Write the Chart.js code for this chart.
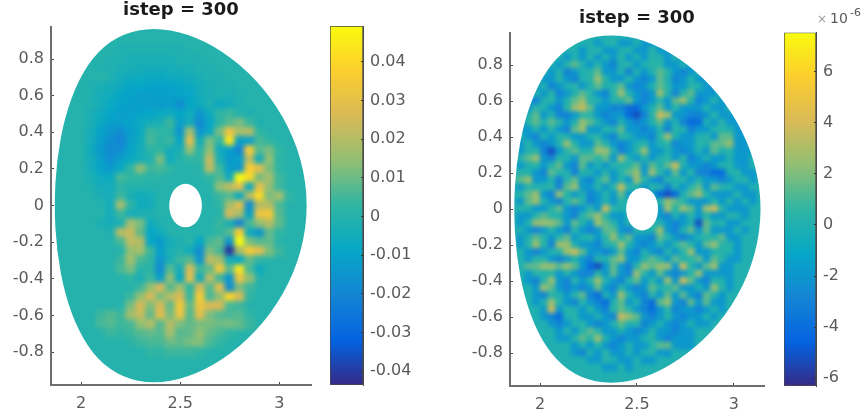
<!DOCTYPE html>
<html>
<head>
<meta charset="utf-8">
<title>istep = 300</title>
<script src="https://cdn.jsdelivr.net/npm/chart.js@4"></script>
<style>
  html, body { margin: 0; background: #fff; }
  body { width: 868px; height: 416px; position: relative; overflow: hidden; }
  canvas { position: absolute; top: 0; filter: blur(0.4px); }
</style>
</head>
<body>
<canvas id="fieldA" width="320" height="416" style="left:0"></canvas>
<canvas id="barA" width="95" height="416" style="left:330px"></canvas>
<canvas id="fieldB" width="310" height="416" style="left:460px"></canvas>
<canvas id="barB" width="84" height="416" style="left:784px"></canvas>
<script>
const titleText = 'istep = 300';
const xTicks = [2, 2.5, 3];
const xTickLabels = ['2', '2.5', '3'];
const yTicks = [0.8, 0.6, 0.4, 0.2, 0, -0.2, -0.4, -0.6, -0.8];
const yTickLabels = ['0.8', '0.6', '0.4', '0.2', '0', '-0.2', '-0.4', '-0.6', '-0.8'];

const barTicksA = [0.04, 0.03, 0.02, 0.01, 0, -0.01, -0.02, -0.03, -0.04];
const barLabelsA = ['0.04', '0.03', '0.02', '0.01', '0', '-0.01', '-0.02', '-0.03', '-0.04'];
const barTicksB = [6, 4, 2, 0, -2, -4, -6];
const barLabelsB = ['6', '4', '2', '0', '-2', '-4', '-6'];

// outline of the section and of the hole, in axis units
const edgeR = [2.365, 2.539, 2.716, 2.885, 3.023, 3.114, 3.146, 3.114, 3.023, 2.885, 2.716, 2.539, 2.365, 2.21, 2.083, 1.987, 1.918, 1.877, 1.864, 1.877, 1.918, 1.987, 2.083, 2.21];
const edgeZ = [0.973, 0.94, 0.843, 0.688, 0.486, 0.252, 0, -0.252, -0.486, -0.688, -0.843, -0.94, -0.973, -0.94, -0.843, -0.688, -0.486, -0.252, 0, 0.252, 0.486, 0.688, 0.843, 0.94];
const holeR = [2.527, 2.59, 2.616, 2.59, 2.527, 2.464, 2.438, 2.464];
const holeZ = [0.128, 0.092, 0, -0.092, -0.128, -0.092, 0, 0.092];

const parulaStops = [
  [0, '#352A87'], [0.125, '#0363E1'], [0.25, '#1485D4'], [0.375, '#06A7C6'], [0.5, '#2FB5A3'],
  [0.625, '#92BF73'], [0.75, '#D9BA56'], [0.875, '#FCCE2E'], [1, '#F9FB0E']
];

// left field, values in units of 0.001
const colsA = [1.85, 1.9, 1.95, 2, 2.05, 2.1, 2.15, 2.2, 2.25, 2.3, 2.35, 2.4, 2.45, 2.5, 2.55, 2.6, 2.65, 2.7, 2.75, 2.8, 2.85, 2.9, 2.95, 3, 3.05, 3.1, 3.15];
const rowsA = [0.95, 0.9, 0.85, 0.8, 0.75, 0.7, 0.65, 0.6, 0.55, 0.5, 0.45, 0.4, 0.35, 0.3, 0.25, 0.2, 0.15, 0.1, 0.05, 0, -0.05, -0.1, -0.15, -0.2, -0.25, -0.3, -0.35, -0.4, -0.45, -0.5, -0.55, -0.6, -0.65, -0.7, -0.75, -0.8, -0.85, -0.9, -0.95];
const valuesA = [
  [],
  [],
  [0,0,0,0,0,0,0,-1,-1,-1,-1,-1,-1,-1],
  [0,0,0,0,0,0,-1,-1,-2,-2,-2,-2,-2,-1,-1,-1],
  [0,0,0,0,0,-1,-1,-2,-2,-3,-3,-3,-3,-2,-2,-1,-1],
  [0,0,0,0,0,1,-1,-3,-4,-4,-5,-5,-4,-4,-3,-2,-1,-1],
  [0,0,0,0,-1,-2,-3,-4,-6,-6,-7,-7,-7,-6,-5,-3,-2,-1,-1],
  [0,0,0,0,-1,-3,-4,-6,-7,-8,-8,-8,-8,-7,-6,-3,-2,-1,-2,-1],
  [0,0,0,0,-1,-3,-5,-7,-8,-8,-8,-9,-8,-12,-6,-4,-1,-5,-3,-1],
  [0,0,0,0,-2,-4,-6,-8,-8,-7,-6,-5,-4,-6,-4,-10,-4,2,3,0,-1],
  [0,0,0,0,-2,-5,-8,-8,-7,-5,-3,-2,3,-8,-3,-13,-6,2,5,8,3,-1],
  [0,0,0,0,-3,-7,-10,-12,-8,-5,3,2,1,-10,12,-10,-5,8,22,12,14,2],
  [0,0,0,0,-3,-8,-12,-14,-8,-4,4,1,3,-6,20,-3,8,2,30,-8,-8,4,2],
  [0,0,0,0,-4,-9,-13,-12,-7,-3,1,2,-3,-2,10,1,10,-4,-8,-14,25,5,8,2],
  [0,0,0,0,-3,-8,-12,-8,-5,-3,-1,8,-4,0,2,2,16,-2,-9,-8,15,-3,10,1],
  [0,0,0,0,-3,-7,-9,-5,2,10,3,4,2,0,0,1,15,3,-8,-10,25,20,8,2],
  [0,0,0,0,-2,-4,-5,4,2,2,1,1,0,0,0,0,2,5,-4,38,28,8,12,3],
  [0,0,0,0,-1,-3,-3,1,0,0,0,0,0,0,0,0,0,10,15,20,-4,20,10,3],
  [0,0,0,0,0,-2,-3,3,-2,-4,-3,0,0,0,0,0,0,3,5,-5,14,28,8,12,2],
  [0,0,0,0,0,0,-3,12,2,-4,-3,0,0,0,0,0,0,2,12,20,-12,14,14,4],
  [0,0,0,0,0,0,-3,3,-3,-2,-1,0,0,0,0,0,0,0,18,12,-8,22,24,5],
  [0,0,0,0,0,-2,-3,-2,12,8,-4,-1,0,0,0,0,0,3,-2,-14,4,10,14,6],
  [0,0,0,0,0,0,-1,14,16,6,-6,-4,0,0,0,0,0,2,5,25,-4,-10,6,2],
  [0,0,0,0,0,0,0,4,15,14,-6,-9,-3,-1,1,-6,4,6,-10,38,8,5,6],
  [0,0,0,0,0,0,0,0,10,12,3,-8,-2,0,-4,-12,8,4,-28,12,24,20,8,3],
  [0,0,0,0,0,0,0,3,12,4,2,-10,-2,3,5,-10,15,12,-3,-6,6,2],
  [0,0,0,0,0,0,0,4,8,1,1,-12,5,-3,18,3,6,24,6,30,4,-4],
  [0,0,0,0,0,0,0,0,2,-2,3,-8,10,-6,20,-4,15,3,-10,22,10],
  [0,0,0,0,0,0,0,0,0,3,10,18,5,12,2,18,5,20,-12,8,3],
  [0,0,0,0,0,0,0,0,3,10,18,8,14,18,3,25,4,10,27,18,2],
  [0,0,0,0,0,0,0,0,8,18,8,18,6,24,6,22,18,18,4,3],
  [0,0,0,0,0,3,5,3,12,16,6,20,8,22,5,20,8,5,4,5,2],
  [0,0,0,0,0,4,5,3,4,10,14,5,14,8,6,8,8,7,8,6,3],
  [0,0,0,0,0,0,3,2,3,5,6,5,12,5,6,10,6,4,2],
  [0,0,0,0,0,0,0,0,1,3,4,4,7,6,8,9,4,2],
  [0,0,0,0,0,0,0,0,0,0,2,2,3,3,3,2],
  [],
  [],
  []
];

// right field, values in units of 1e-6
const colsB = [1.86, 1.9, 1.94, 1.98, 2.02, 2.06, 2.1, 2.14, 2.18, 2.22, 2.26, 2.3, 2.34, 2.38, 2.42, 2.46, 2.5, 2.54, 2.58, 2.62, 2.66, 2.7, 2.74, 2.78, 2.82, 2.86, 2.9, 2.94, 2.98, 3.02, 3.06, 3.1, 3.14];
const rowsB = [0.96, 0.92, 0.88, 0.84, 0.8, 0.76, 0.72, 0.68, 0.64, 0.6, 0.56, 0.52, 0.48, 0.44, 0.4, 0.36, 0.32, 0.28, 0.24, 0.2, 0.16, 0.12, 0.08, 0.04, 0, -0.04, -0.08, -0.12, -0.16, -0.2, -0.24, -0.28, -0.32, -0.36, -0.4, -0.44, -0.48, -0.52, -0.56, -0.6, -0.64, -0.68, -0.72, -0.76, -0.8, -0.84, -0.88, -0.92, -0.96];
const valuesB = [
  [],
  [0,0,0,0,0,0,0,0,0,0,0,-1,0,1,-1,-1,0,-1,-1],
  [0,0,0,0,0,0,0,0,0,-1,0,1,-1,-1,0,1,-1,-1,1,-1,-1,0],
  [0,0,0,0,0,0,0,-1,0,-1,1,-1,0,-1,1,-1,0,-1,1,0,-1,0,-1,0],
  [0,0,0,0,0,0,-1,1,2,0,-1,1,-1,-2,0,1,-1,0,1,1,-1,-1,0,-1,0],
  [0,0,0,0,0,-1,0,-2,-1,0,1,2,-1,-1,0,-2,0,-1,0,2,1,-1,-2,-1,0,-1,0],
  [0,0,0,0,-1,-1,1,-1,-2,0,1,3,1,-1,-1,1,-1,-2,-1,2,0,-2,-1,0,-1,-1,-1,0],
  [0,0,0,-1,0,-2,-1,0,1,-1,0,2,0,1,2,-1,-2,-1,0,2,1,-1,-1,1,0,-1,-2,-1,0],
  [0,0,-1,0,-1,1,-2,-1,0,2,1,-1,-2,1,3,0,-1,-2,-1,3,1,-2,1,2,-1,-1,-1,0,-1,0],
  [0,0,-1,-2,0,1,-1,0,2,3,1,0,-1,0,1,2,-1,-2,-1,1,-1,2,3,1,-2,-1,0,-1,-1,0],
  [0,-1,-1,1,0,-1,-2,1,3,4,2,-1,-1,-2,-2,-3,-3,-1,0,2,-1,1,-1,-1,-1,0,-1,-1,0,-1,0],
  [0,-1,0,2,-1,0,-2,-2,-1,1,1,-1,-2,-1,-1,-3,-4,-2,1,4,3,-1,-1,-2,-2,-1,1,-1,-1,-1,0],
  [0,-1,1,2,0,2,1,-1,0,3,2,0,-1,-2,0,-1,-2,-1,0,2,-1,0,-2,-3,-3,0,-1,1,-1,-1,0],
  [0,-1,-1,0,-1,1,-1,-2,2,3,-1,-1,1,0,2,-1,-1,-2,-1,0,-2,1,0,-2,-1,-1,0,1,0,-1,-1,0],
  [0,0,-1,-2,0,-1,1,0,-1,-1,0,1,-1,-2,1,0,-1,-1,-2,1,3,0,-1,-1,0,1,-1,2,2,-1,-1,0],
  [0,-1,1,-1,-2,-1,0,3,1,-1,-1,2,1,-1,-2,-1,0,1,-1,0,1,-2,-1,-1,1,0,2,2,3,-1,-1,0],
  [0,-1,0,1,-2,-4,-1,1,2,0,1,3,3,0,-2,-1,1,3,-1,-1,0,-1,-2,-1,0,-1,2,0,1,-1,-1,-1,0],
  [0,1,2,3,-1,-2,1,0,-1,2,2,1,2,-1,3,0,-1,1,-1,0,1,-1,1,-2,-1,0,-1,-1,0,-1,-1,0,0],
  [0,-1,0,1,-1,1,2,-1,-2,2,-1,0,-1,1,0,1,2,-1,2,0,2,4,0,-1,-1,-2,-1,0,1,-1,-1,0,0],
  [0,1,0,-1,-2,2,1,0,-2,1,0,-1,1,-1,1,2,3,-1,3,1,-1,2,-1,1,-2,-2,-3,-3,0,1,-1,-1,0],
  [0,2,3,-1,-1,0,-2,1,2,-1,-2,0,2,-1,0,-1,3,1,-1,-2,1,0,1,-1,0,-1,-1,-2,-1,0,1,-1,0],
  [0,-1,1,0,1,1,-2,2,3,-1,-1,1,-1,1,4,1,0,-1,1,0,-2,0,-1,1,2,-1,2,1,0,-1,-1,0,0],
  [0,1,2,3,-1,-2,3,1,-1,0,-2,-1,1,-1,2,-1,0,-2,-1,-3,-4,-3,0,2,3,1,-1,-1,-1,1,-1,-1,0],
  [0,-1,2,3,0,-1,-2,1,2,1,-2,-1,0,-1,1,0,0,0,0,1,3,2,1,-1,-1,-1,1,-1,1,-1,0,-1,0],
  [0,1,0,-1,-1,1,2,-1,-2,-1,1,-1,4,1,0,0,0,0,0,-1,3,1,3,2,-1,3,4,1,-1,-1,-1,0,0],
  [0,-1,-1,1,2,1,0,-1,-2,1,2,3,1,-1,-1,0,0,0,0,-1,-2,0,-1,1,-1,1,-1,-1,1,0,-1,0,0],
  [0,-1,0,3,3,3,2,-1,2,0,-1,3,2,1,-1,1,0,0,0,0,-1,-2,-1,0,-4,2,0,1,-1,-1,0,0,0],
  [0,0,-1,-2,-1,1,-1,-2,1,-1,-2,-1,2,2,-1,-2,1,0,0,3,-1,-2,0,2,-1,2,-1,-1,-1,1,-1,0,0],
  [0,-1,0,2,1,-1,1,2,-1,0,1,-1,1,3,0,2,-1,-1,-2,2,1,-1,-2,-1,0,1,1,2,-1,-1,0,0,0],
  [0,-1,1,3,1,-2,3,3,0,-1,-1,-2,0,1,3,1,-1,-2,-1,0,-1,1,2,1,-1,2,3,1,1,-1,0,0,0],
  [0,0,-1,-2,-1,0,1,3,4,2,-1,-1,-2,-1,2,-1,-2,0,-1,-2,1,-1,1,3,-1,-1,0,1,0,-1,0,0,0],
  [0,0,-1,1,1,-1,-2,-1,0,-1,-2,1,0,2,3,-1,-1,1,2,1,-1,2,0,1,2,-1,2,1,-1,-1,0,0],
  [0,0,2,2,3,3,2,3,2,-1,-3,-4,-1,2,-1,-2,1,3,2,3,3,-1,4,1,-1,2,3,-1,-1,0,0],
  [0,0,-1,1,0,1,-1,0,-1,-2,-2,1,-1,2,-1,-2,3,1,-1,2,-1,-2,-1,1,3,-1,-1,-1,-1,0,0],
  [0,0,-1,-2,1,3,-1,-2,1,-1,1,3,0,-1,-2,1,2,-1,1,-1,3,-1,4,2,-1,-2,1,0,-1,0],
  [0,0,0,-1,3,2,-1,-2,-1,-2,-1,2,-1,-2,1,-1,-2,-1,2,0,1,2,-1,-1,0,-1,3,1,-1,0],
  [0,0,0,-1,-2,1,0,-1,1,2,-2,-3,0,-1,3,0,-1,-2,1,-1,2,-1,2,-1,-2,2,1,-1,0,0],
  [0,0,0,-1,0,3,1,-1,-2,1,-1,-2,-3,0,2,-1,0,-2,-3,2,3,-1,-2,2,-1,2,-1,-1,0],
  [0,0,0,0,-1,4,-1,1,0,-1,1,-1,-2,1,2,1,-1,-2,-3,-1,1,-2,-1,-1,-2,-1,0,-1,0],
  [0,0,0,0,-1,-2,-3,0,1,-1,-1,0,-1,-2,4,3,2,-1,-2,-1,1,-1,-2,-1,-1,0,-1,0],
  [0,0,0,0,0,-1,-2,-1,0,1,-1,-2,-1,0,2,0,1,-2,-1,0,-1,-2,-1,0,-1,-1,0],
  [0,0,0,0,0,0,-1,1,-1,1,2,1,-1,-1,0,-1,-2,-1,1,-1,-1,-2,-1,-1,0,0],
  [0,0,0,0,0,0,-1,-1,1,2,1,3,0,-1,-2,-1,-1,0,1,-1,-2,-1,-1,-1,0],
  [0,0,0,0,0,0,0,0,-1,0,-1,1,-1,-2,-1,0,-1,-1,1,2,2,-1,-1,-1,0],
  [0,0,0,0,0,0,0,0,-1,-2,0,-1,1,-1,-1,0,-1,0,1,-1,-1,0],
  [0,0,0,0,0,0,0,0,0,0,-1,-1,1,0,-1,-1,0,-1,-1,0],
  [0,0,0,0,0,0,0,0,0,0,0,0,-1,-1,0,-1,0],
  [],
  []
];

const textColor = '#5a5a5a';
const axisColor = '#6e6e6e';
const tickFont = { family: '"DejaVu Sans"', size: 16 };

function hexRgb(h) {
  return [1, 3, 5].map(i => parseInt(h.slice(i, i + 2), 16));
}

function parula(f) {
  f = Math.min(Math.max(f, 0), 1);
  for (let i = 1; i < parulaStops.length; i++) {
    if (f <= parulaStops[i][0]) {
      const [f0, c0] = parulaStops[i - 1];
      const [f1, c1] = parulaStops[i];
      const t = (f - f0) / (f1 - f0);
      const a = hexRgb(c0), b = hexRgb(c1);
      return `rgb(${a.map((v, k) => Math.round(v + (b[k] - v) * t)).join(',')})`;
    }
  }
  return parulaStops[parulaStops.length - 1][1];
}

// closed smooth path through the midpoints of the outline
function tracePath(ctx, x, y, rs, zs) {
  const n = rs.length;
  const px = i => x.getPixelForValue(rs[(i + n) % n]);
  const py = i => y.getPixelForValue(zs[(i + n) % n]);
  ctx.moveTo((px(-1) + px(0)) / 2, (py(-1) + py(0)) / 2);
  for (let i = 0; i < n; i++) {
    ctx.quadraticCurveTo(px(i), py(i), (px(i) + px(i + 1)) / 2, (py(i) + py(i + 1)) / 2);
  }
  ctx.closePath();
}

function sectionPlugin(blurPx, baseColor) {
  return {
    id: 'section',
    beforeDatasetsDraw(ci) {
      const { ctx, chartArea: a } = ci;
      ctx.save();
      ctx.fillStyle = baseColor;
      ctx.fillRect(a.left, a.top, a.width, a.height);
      ctx.restore();
    },
    afterDatasetsDraw(ci) {
      const { ctx, chartArea: a, scales: { x, y } } = ci;
      // soften the cells, then mask everything outside the section
      ctx.save();
      ctx.beginPath();
      ctx.rect(a.left, a.top, a.width, a.height);
      ctx.clip();
      ctx.filter = `blur(${blurPx}px)`;
      ctx.drawImage(ci.canvas, 0, 0);
      ctx.filter = 'none';
      ctx.beginPath();
      ctx.rect(a.left - 2, a.top - 2, a.width + 4, a.height + 4);
      tracePath(ctx, x, y, edgeR, edgeZ);
      tracePath(ctx, x, y, holeR, holeZ);
      ctx.fillStyle = '#fff';
      ctx.fill('evenodd');
      ctx.restore();
    }
  };
}

function fieldChart(o) {
  const points = [], colors = [];
  o.values.forEach((row, j) => {
    row.forEach((v, i) => {
      points.push({ x: o.cols[i], y: o.rows[j] });
      // gain and shift make up for the contrast the softening takes away; zero stays the rim colour
      const shown = v === 0 ? 0 : (v + o.shift) * o.unit * o.gain;
      colors.push(parula((shown - o.cMin) / (o.cMax - o.cMin)));
    });
  });
  const zeroColor = parula((0 - o.cMin) / (o.cMax - o.cMin));

  return new Chart(document.getElementById(o.id), {
    type: 'scatter',
    data: {
      datasets: [{
        data: points,
        pointStyle: 'rect',
        pointRadius: o.radius,
        pointBorderWidth: 0,
        backgroundColor: colors
      }]
    },
    options: {
      animation: false,
      responsive: false,
      events: [],
      layout: { padding: { top: 0, right: o.padRight, left: 0, bottom: 0 } },
      plugins: {
        legend: { display: false },
        tooltip: { enabled: false },
        title: {
          display: true,
          text: titleText,
          fullSize: false,
          color: '#1a1a1a',
          font: { family: '"DejaVu Sans"', size: 18, weight: 'bold', lineHeight: 1.2 },
          padding: o.titlePad
        }
      },
      scales: {
        x: {
          type: 'linear',
          min: o.xMin,
          max: o.xMax,
          afterBuildTicks: s => { s.ticks = xTicks.map(v => ({ value: v })); },
          afterFit: s => { s.height = o.axisH; },
          grid: { z: 1, drawOnChartArea: false, tickLength: -3, tickColor: '#444' },
          border: { z: 1, color: axisColor, width: 2 },
          ticks: {
            z: 1, padding: 12, color: textColor, font: tickFont, maxRotation: 0, autoSkip: false,
            callback: (v, i) => xTickLabels[i]
          }
        },
        y: {
          type: 'linear',
          min: o.yMin,
          max: o.yMax,
          afterBuildTicks: s => { s.ticks = yTicks.map(v => ({ value: v })); },
          afterFit: s => { s.width = o.axisW; },
          grid: { z: 1, drawOnChartArea: false, tickLength: -3, tickColor: '#444' },
          border: { z: 1, color: axisColor, width: 2 },
          ticks: {
            z: 1, padding: 10, color: textColor, font: tickFont, autoSkip: false,
            callback: (v, i) => yTickLabels[i]
          }
        }
      }
    },
    plugins: [sectionPlugin(o.blur, zeroColor)]
  });
}

function colorbarChart(o) {
  return new Chart(document.getElementById(o.id), {
    type: 'bar',
    data: {
      labels: ['c'],
      datasets: [{
        data: [[o.min, o.max]],
        categoryPercentage: 1,
        barPercentage: 1,
        borderWidth: 1,
        borderSkipped: false,
        borderColor: '#4a4a4a',
        backgroundColor: c => {
          const a = c.chart.chartArea;
          if (!a) return parulaStops[0][1];
          const g = c.chart.ctx.createLinearGradient(0, a.bottom, 0, a.top);
          parulaStops.forEach(([f, col]) => g.addColorStop(f, col));
          return g;
        }
      }]
    },
    options: {
      animation: false,
      responsive: false,
      events: [],
      layout: { padding: { top: o.top, bottom: o.bottom, left: 0, right: 0 } },
      plugins: { legend: { display: false }, tooltip: { enabled: false } },
      scales: {
        x: { display: false },
        y: {
          position: 'right',
          min: o.min,
          max: o.max,
          afterBuildTicks: s => { s.ticks = o.ticks.map(v => ({ value: v })); },
          afterFit: s => { s.width = o.axisW; },
          grid: { z: 1, drawOnChartArea: false, tickLength: -2, tickColor: '#333' },
          border: { z: 1, color: '#4a4a4a', width: 1 },
          ticks: {
            z: 1, padding: 9, color: textColor, font: tickFont, autoSkip: false,
            callback: (v, i) => o.labels[i]
          }
        }
      }
    },
    plugins: o.plugins || []
  });
}

// the exponent label over the right colorbar
const exponentLabel = {
  id: 'exponentLabel',
  afterDraw(ci) {
    const { ctx } = ci;
    ctx.save();
    ctx.textBaseline = 'alphabetic';
    ctx.textAlign = 'left';
    ctx.fillStyle = '#9a9a9a';
    ctx.font = '12px "DejaVu Sans"';
    ctx.fillText('×', 33, 23);
    ctx.fillStyle = textColor;
    ctx.font = '14px "DejaVu Sans"';
    ctx.fillText('10', 46, 23);
    ctx.font = '11px "DejaVu Sans"';
    ctx.fillText('-6', 66, 16);
    ctx.restore();
  }
};

fieldChart({
  id: 'fieldA', values: valuesA, cols: colsA, rows: rowsA, unit: 0.001, gain: 1.45, shift: 0,
  cMin: -0.0436, cMax: 0.0493, radius: 7.5, blur: 2.8,
  xMin: 1.848, xMax: 3.16, yMin: -0.98, yMax: 0.975,
  axisW: 51, axisH: 31, padRight: 9, titlePad: { top: 0, bottom: 5.4 }
});
colorbarChart({
  id: 'barA', min: -0.0436, max: 0.0493, ticks: barTicksA, labels: barLabelsA,
  top: 26, bottom: 31, axisW: 62
});
fieldChart({
  id: 'fieldB', values: valuesB, cols: colsB, rows: rowsB, unit: 1, gain: 1.1, shift: -0.7,
  cMin: -6.3, cMax: 7.52, radius: 5.8, blur: 2.1,
  xMin: 1.845, xMax: 3.156, yMin: -0.983, yMax: 0.978,
  axisW: 50, axisH: 30, padRight: 6, titlePad: { top: 8, bottom: 3.4 }
});
colorbarChart({
  id: 'barB', min: -6.3, max: 7.52, ticks: barTicksB, labels: barLabelsB,
  top: 32.5, bottom: 30, axisW: 52, plugins: [exponentLabel]
});
</script>
</body>
</html>
